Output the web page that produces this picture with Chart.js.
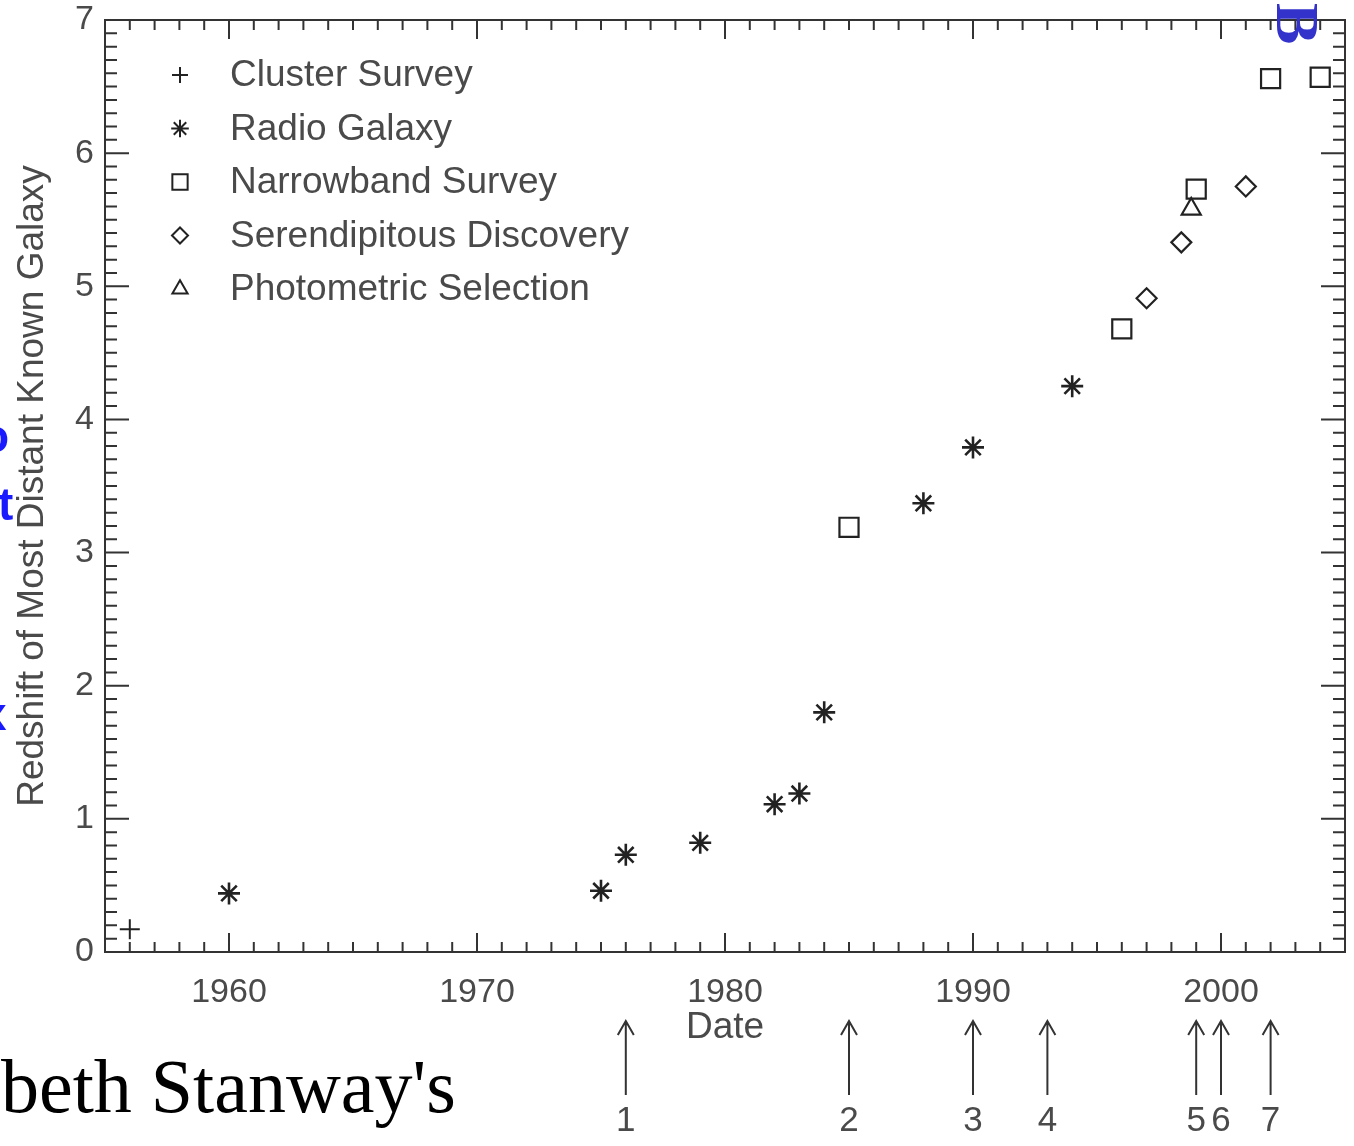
<!DOCTYPE html>
<html>
<head>
<meta charset="utf-8">
<script src="https://cdn.jsdelivr.net/npm/chart.js"></script>
<style>
html, body { margin: 0; padding: 0; background: #fff; overflow: hidden; }
#wrap { position: relative; width: 1354px; height: 1146px; }
</style>
</head>
<body>
<div id="wrap"><canvas id="c" width="1354" height="1146"></canvas></div>
<script>
// year of discovery and redshift
var clusterYears = [1956];
var clusterZ = [0.17];
var radioYears = [1960, 1975, 1976, 1979, 1982, 1983, 1984, 1988, 1990, 1994];
var radioZ = [0.44, 0.46, 0.73, 0.82, 1.11, 1.19, 1.80, 3.37, 3.79, 4.25];
var narrowYears = [1985, 1996, 1999, 2002, 2004];
var narrowZ = [3.19, 4.68, 5.73, 6.56, 6.57];
var serendipYears = [1997, 1998.4, 2001];
var serendipZ = [4.91, 5.33, 5.75];
var photoYears = [1998.8];
var photoZ = [5.58];

var xTickValues = [1960, 1970, 1980, 1990, 2000];
var yTickValues = [0, 1, 2, 3, 4, 5, 6, 7];

var arrowYears = [1976, 1985, 1990, 1993, 1999, 2000, 2002];
var arrowLabels = ['1', '2', '3', '4', '5', '6', '7'];

var FONT = '"Liberation Sans", Arial, Helvetica, sans-serif';
var INK = '#222';
var TEXT = '#4a4a4a';

function pts(xs, ys) {
    return xs.map(function (v, i) { return { x: v, y: ys[i] }; });
}

function series(label, xs, ys, style, r, lw) {
    return {
        label: label,
        data: pts(xs, ys),
        pointStyle: style,
        pointRadius: r,
        pointHoverRadius: r,
        borderColor: INK,
        backgroundColor: 'rgba(0,0,0,0)',
        pointBorderWidth: lw,
        showLine: false,
        clip: 20
    };
}

// inward ticks on all four sides plus the box
var frameTicks = {
    id: 'frameTicks',
    afterDraw: function (chart) {
        var ctx = chart.ctx, a = chart.chartArea, x = chart.scales.x, y = chart.scales.y;
        ctx.save();
        ctx.strokeStyle = '#333';
        ctx.lineWidth = 2;
        ctx.strokeRect(a.left, a.top, a.right - a.left, a.bottom - a.top);
        ctx.beginPath();
        for (var v = x.min + 1; v < x.max; v++) {
            var px = x.getPixelForValue(v);
            var len = (v % 10 === 0) ? 19 : 10;
            ctx.moveTo(px, a.bottom); ctx.lineTo(px, a.bottom - len);
            ctx.moveTo(px, a.top); ctx.lineTo(px, a.top + len);
        }
        for (var i = 1; i < 70; i++) {
            var py = y.getPixelForValue(i / 10);
            var l2 = (i % 10 === 0) ? 24 : 12;
            ctx.moveTo(a.left, py); ctx.lineTo(a.left + l2, py);
            ctx.moveTo(a.right, py); ctx.lineTo(a.right - l2, py);
        }
        ctx.stroke();
        ctx.restore();
    }
};

var insideLegend = {
    id: 'insideLegend',
    afterDraw: function (chart) {
        var ctx = chart.ctx, a = chart.chartArea;
        ctx.save();
        ctx.font = '37px ' + FONT;
        ctx.textBaseline = 'middle';
        chart.data.datasets.forEach(function (ds, i) {
            var cy = a.top + 55 + i * 53.5;
            var cx = a.left + 75;
            ctx.strokeStyle = INK;
            ctx.fillStyle = 'rgba(0,0,0,0)';
            ctx.lineWidth = 2;
            Chart.helpers.drawPoint(ctx, {
                pointStyle: ds.pointStyle,
                radius: ds.pointRadius * 0.8,
                borderWidth: 2,
                rotation: 0
            }, cx, cy);
            ctx.fillStyle = TEXT;
            ctx.fillText(ds.label, a.left + 125, cy + 1);
        });
        ctx.restore();
    }
};

// numbered arrows under the date axis
var dateArrows = {
    id: 'dateArrows',
    afterDraw: function (chart) {
        var ctx = chart.ctx, x = chart.scales.x;
        ctx.save();
        ctx.strokeStyle = '#333';
        ctx.fillStyle = TEXT;
        ctx.lineWidth = 2;
        ctx.font = '35px ' + FONT;
        ctx.textAlign = 'center';
        ctx.textBaseline = 'middle';
        arrowYears.forEach(function (yr, i) {
            var px = x.getPixelForValue(yr);
            ctx.beginPath();
            ctx.moveTo(px, 1095); ctx.lineTo(px, 1021);
            ctx.moveTo(px - 8, 1035); ctx.lineTo(px, 1021); ctx.lineTo(px + 8, 1035);
            ctx.stroke();
            ctx.fillText(arrowLabels[i], px, 1121);
        });
        ctx.restore();
    }
};

// bits of the surrounding slide that show in the crop
var slideBits = {
    id: 'slideBits',
    afterDraw: function (chart) {
        var ctx = chart.ctx;
        ctx.save();
        ctx.fillStyle = '#000';
        ctx.font = '76px "Liberation Serif", "Times New Roman", serif';
        ctx.textBaseline = 'alphabetic';
        ctx.fillText("beth Stanway's", 1, 1112);

        ctx.fillStyle = '#1a1aff';
        ctx.font = 'bold 46px ' + FONT;
        ctx.fillText('o', -19, 452);
        ctx.fillText('t', -2, 520);
        ctx.fillText('x', -19, 730);

        ctx.fillStyle = '#3333cc';
        ctx.font = 'bold 62px "Liberation Serif", "Times New Roman", serif';
        ctx.translate(1277, 3);
        ctx.rotate(Math.PI / 2);
        ctx.fillText('B', 0, 0);
        ctx.restore();
    }
};

new Chart(document.getElementById('c'), {
    type: 'scatter',
    data: {
        datasets: [
            series('Cluster Survey', clusterYears, clusterZ, 'cross', 10, 2),
            series('Radio Galaxy', radioYears, radioZ, 'star', 11, 2.6),
            series('Narrowband Survey', narrowYears, narrowZ, 'rect', 13.5, 2.2),
            series('Serendipitous Discovery', serendipYears, serendipZ, 'rectRot', 10, 2.2),
            series('Photometric Selection', photoYears, photoZ, 'triangle', 11, 2.2)
        ]
    },
    options: {
        responsive: false,
        animation: false,
        events: [],
        layout: { autoPadding: false, padding: { top: 20, right: 9, left: 0, bottom: 0 } },
        plugins: {
            legend: { display: false },
            tooltip: { enabled: false }
        },
        scales: {
            x: {
                type: 'linear',
                min: 1955,
                max: 2005,
                afterBuildTicks: function (s) { s.ticks = xTickValues.map(function (v) { return { value: v }; }); },
                afterFit: function (s) { s.height = 194; s.paddingLeft = 0; s.paddingRight = 0; },
                grid: { display: false, drawTicks: false },
                border: { display: false },
                ticks: {
                    color: TEXT,
                    padding: 20,
                    maxRotation: 0,
                    font: { family: FONT, size: 34 },
                    callback: function (v) { return String(v); }
                },
                title: {
                    display: true,
                    text: 'Date',
                    color: TEXT,
                    font: { family: FONT, size: 37 },
                    padding: { top: 0, bottom: 96 }
                }
            },
            y: {
                type: 'linear',
                min: 0,
                max: 7,
                afterBuildTicks: function (s) { s.ticks = yTickValues.map(function (v) { return { value: v }; }); },
                afterFit: function (s) { s.width = 105; s.paddingTop = 0; s.paddingBottom = 0; },
                grid: { display: false, drawTicks: false },
                border: { display: false },
                ticks: {
                    color: TEXT,
                    padding: 11,
                    font: { family: FONT, size: 34 },
                    callback: function (v) { return String(v); }
                },
                title: {
                    display: true,
                    text: 'Redshift of Most Distant Known Galaxy',
                    color: TEXT,
                    font: { family: FONT, size: 37 },
                    padding: { top: 11, bottom: 0 }
                }
            }
        }
    },
    plugins: [frameTicks, insideLegend, dateArrows, slideBits]
});
</script>
</body>
</html>
